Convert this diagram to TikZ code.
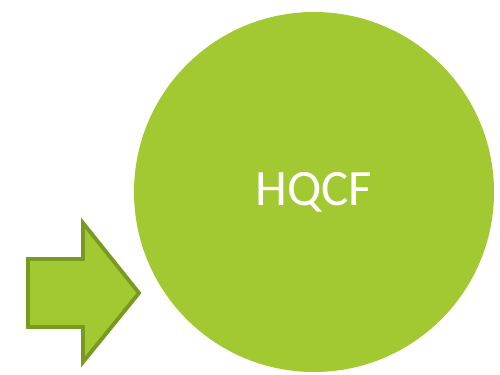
\documentclass[tikz,border=0pt]{standalone}
\usepackage{fontspec}
\setmainfont{Carlito}
\definecolor{leaf}{HTML}{A2C932}
\definecolor{leafdark}{HTML}{789A1E}

\begin{document}
\begin{tikzpicture}[x=0.02cm,y=-0.02cm]
	\useasboundingbox (0,0) rectangle (500,375);
	\coordinate (A) at (28,259);
	\coordinate (B) at (83,259);
	\coordinate (C) at (83,223);
	\coordinate (D) at (139,293);
	\coordinate (E) at (83,362);
	\coordinate (F) at (83,327);
	\coordinate (G) at (28,327);
	\node[circle, fill=leaf, minimum size=360*0.02cm, inner sep=0pt] (hqcf) at (314,192) {};
	\draw[leafdark, fill=leaf, line width=2.2pt, line join=miter] (A)--(B)--(C)--(D)--(E)--(F)--(G)--cycle;
	\node[white, font=\fontsize{29}{34}\selectfont] at (hqcf) {HQCF};
\end{tikzpicture}
\end{document}
